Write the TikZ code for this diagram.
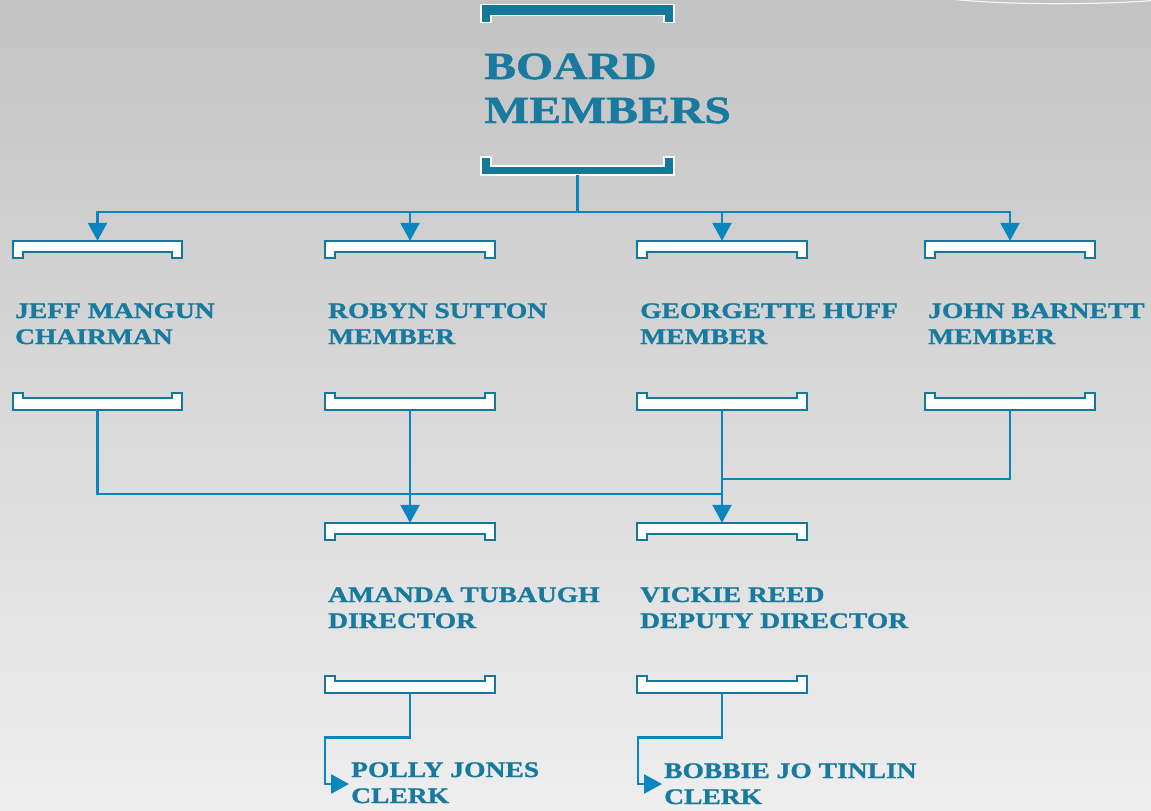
\documentclass[tikz,border=0pt]{standalone}
\usepackage{fontspec}
\setmainfont{Liberation Serif}
\newfontfamily\engfont{Liberation Serif}[FakeStretch=1.24,FakeBold=1.2]
\usetikzlibrary{arrows.meta,calc}
\definecolor{txt}{HTML}{177A9E}
\definecolor{brk}{HTML}{15789B}
\definecolor{cn}{HTML}{0A85BF}
\definecolor{bgtop}{HTML}{C3C3C3}
\definecolor{bgbot}{HTML}{EEEEEE}
\tikzset{
  slot/.style={inner sep=0pt, minimum width=169pt, minimum height=17pt},
  bigslot/.style={inner sep=0pt, minimum width=193pt, minimum height=17.5pt},
  smallbr/.style={draw=brk, fill=white, line width=1.8pt},
  bigbr/.style={draw=white, fill=brk, line width=1.8pt},
  conn/.style={draw=cn, line width=2.6pt},
  arr/.style={-{Triangle[width=19pt,length=18pt]}},
  lbl/.style={text=txt, inner sep=0pt, anchor=base west, align=left,
    font=\engfont\bfseries\fontsize{22.2}{26}\selectfont},
  biglbl/.style={text=txt, inner sep=0pt, anchor=base west, align=left,
    font=\engfont\bfseries\fontsize{38.5}{44}\selectfont}
}
% top bracket: legs down
\newcommand\bracketTop[3]{\path[#3] (#1.north west) -- (#1.north east) -- (#1.south east) -- ++(-10,0) -- ++(0,-#2) -- ($(#1.south west)+(10,-#2)$) -- ++(0,#2) -- (#1.south west) -- cycle;}
% bottom bracket: legs up
\newcommand\bracketBot[3]{\path[#3] (#1.north west) -- ++(10,0) -- ++(0,#2) -- ($(#1.north east)+(-10,#2)$) -- ++(0,-#2) -- (#1.north east) -- (#1.south east) -- (#1.south west) -- cycle;}
\begin{document}
\begin{tikzpicture}[x=1pt,y=-1pt]
\useasboundingbox (0,0) rectangle (1151,811);
\shade[top color=bgtop, bottom color=bgbot] (0,0) rectangle (1151,811);
\begin{scope}
\clip (0,0) rectangle (1151,811);
\draw[white, opacity=0.8, line width=1.2pt] (955,-0.5) .. controls (1010,5) and (1100,5) .. (1160,0);
\end{scope}

% bracket slots
\node[bigslot] (bmT) at (577.5,13.5) {};
\node[bigslot] (bmB) at (577.5,166) {};
\node[slot] (jT) at (97.5,249.5) {};
\node[slot] (rT) at (410,249.5) {};
\node[slot] (gT) at (722,249.5) {};
\node[slot] (jbT) at (1010,249.5) {};
\node[slot] (jB) at (97.5,401.5) {};
\node[slot] (rB) at (410,401.5) {};
\node[slot] (gB) at (722,401.5) {};
\node[slot] (jbB) at (1010,401.5) {};
\node[slot] (aT) at (410,531.5) {};
\node[slot] (vT) at (722,531.5) {};
\node[slot] (aB) at (410,684.5) {};
\node[slot] (vB) at (722,684.5) {};

\bracketTop{bmT}{7}{bigbr}
\bracketBot{bmB}{9}{bigbr}
\foreach \n in {jT,rT,gT,jbT,aT,vT} {\bracketTop{\n}{6}{smallbr}}
\foreach \n in {jB,rB,gB,jbB,aB,vB} {\bracketBot{\n}{5.5}{smallbr}}

% labels (base anchor = baseline of the last line)
\node[biglbl] (bm) at (484,123) {BOARD\\MEMBERS};
\node[lbl] (jeff) at (15,344) {JEFF MANGUN\\CHAIRMAN};
\node[lbl] (robyn) at (328,344) {ROBYN SUTTON\\MEMBER};
\node[lbl] (georg) at (640,344) {GEORGETTE HUFF\\MEMBER};
\node[lbl] (john) at (928,344) {JOHN BARNETT\\MEMBER};
\node[lbl] (amanda) at (328,628) {AMANDA TUBAUGH\\DIRECTOR};
\node[lbl] (vickie) at (640,628) {VICKIE REED\\DEPUTY DIRECTOR};
\node[lbl] (polly) at (351,803) {POLLY JONES\\CLERK};
\node[lbl] (bobbie) at (664,804) {BOBBIE JO TINLIN\\CLERK};

% connectors
\coordinate (hub) at (577.5,212);
\draw[conn] (bmB.south) -- (hub);
\foreach \n in {jT,rT,gT,jbT} {\draw[conn,arr] (hub) -| (\n.north);}
\coordinate (m1) at (722,494);
\coordinate (m2) at (722,479);
\draw[conn] (jB.south) |- (m1);
\draw[conn] (jbB.south) |- (m2);
\draw[conn,arr] (rB.south) -- (aT.north);
\draw[conn,arr] (gB.south) -- (vT.north);
\coordinate (pin) at (349,784);
\coordinate (bin) at (662,784);
\draw[conn,arr] (aB.south) -- ++(0,44) -| ($(pin)+(-24,0)$) -- (pin);
\draw[conn,arr] (vB.south) -- ++(0,44) -| ($(bin)+(-24,0)$) -- (bin);
\end{tikzpicture}
\end{document}
